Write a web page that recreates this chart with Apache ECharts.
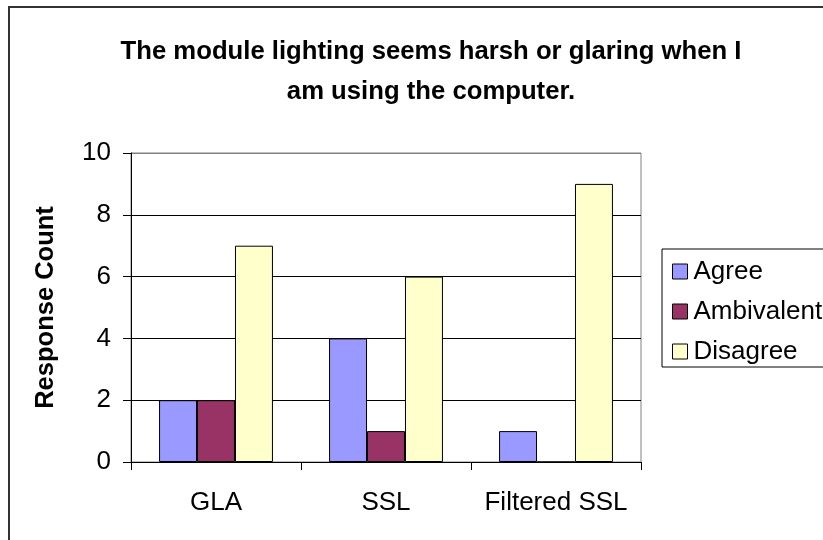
<!DOCTYPE html>
<html>
<head>
<meta charset="utf-8">
<script src="https://cdn.jsdelivr.net/npm/echarts@6/dist/echarts.min.js"></script>
<style>
  html, body { margin: 0; padding: 0; background: #fff; }
  #chart { width: 823px; height: 540px; }
</style>
</head>
<body>
<div id="chart"></div>
<script>
// categories and series
const categories = ["GLA", "SSL", "Filtered SSL"];
const agree = [2, 4, 1];
const ambivalent = [2, 1, 0];
const disagree = [7, 6, 9];
const yTicks = [0, 2, 4, 6, 8, 10];

const font = "Liberation Sans, Arial, sans-serif";

const chart = echarts.init(document.getElementById("chart"), null, { renderer: "canvas" });

const barSeries = (name, data, color) => ({
  name: name,
  type: "bar",
  data: data,
  barGap: "0%",
  barCategoryGap: "33%",
  itemStyle: { color: color, borderColor: "#000", borderWidth: 1 },
  emphasis: { disabled: true },
});

chart.setOption({
  backgroundColor: "#fff",
  animation: false,
  title: {
    text: "The module lighting seems harsh or glaring when I\nam using the computer.",
    left: 426,
    top: 27,
    textAlign: "center",
    textStyle: {
      fontFamily: font,
      fontSize: 25.7,
      fontWeight: "bold",
      color: "#000",
      lineHeight: 40,
    },
  },
  graphic: [
    {
      type: "rect",
      shape: { x: 9, y: 7, width: 830, height: 550 },
      style: { fill: "none", stroke: "#333", lineWidth: 2 },
      silent: true,
      z: -10,
    },
  ],
  legend: {
    orient: "vertical",
    left: 662,
    top: 249,
    data: ["Agree", "Ambivalent", "Disagree"],
    itemWidth: 15,
    itemHeight: 15,
    itemGap: 13,
    padding: [9, 30, 2, 10],
    borderColor: "#000",
    borderWidth: 1,
    textStyle: { fontFamily: font, fontSize: 26, color: "#000", padding: [0, 0, 0, 1], lineHeight: 27 },
    icon: "rect",
    itemStyle: { borderColor: "#000", borderWidth: 1 },
  },
  grid: {
    left: 131,
    right: 182,
    top: 153,
    bottom: 78,
    show: true,
    borderColor: "#808080",
    borderWidth: 1,
  },
  xAxis: {
    type: "category",
    data: categories,
    axisLine: { lineStyle: { color: "#000", width: 1 } },
    axisTick: { show: true, length: 8, lineStyle: { color: "#000" } },
    axisLabel: { interval: 0, fontFamily: font, fontSize: 26, color: "#000", margin: 28 },
  },
  yAxis: {
    type: "value",
    min: 0,
    max: 10,
    interval: 2,
    name: "Response Count",
    nameLocation: "middle",
    nameGap: 72,
    nameTextStyle: { fontFamily: font, fontSize: 25.5, fontWeight: "bold", color: "#000" },
    axisLine: { show: true, lineStyle: { color: "#000", width: 1 } },
    axisTick: { show: true, length: 8, lineStyle: { color: "#000" } },
    axisLabel: {
      fontFamily: font,
      fontSize: 26,
      color: "#000",
      margin: 20,
      formatter: (v) => (yTicks.includes(v) ? String(v) : ""),
    },
    splitLine: {
      lineStyle: { color: ["#000", "#000", "#000", "#000", "#000", "#808080"], width: 1 },
    },
  },
  series: [
    barSeries("Agree", agree, "#9999FF"),
    barSeries("Ambivalent", ambivalent, "#993366"),
    barSeries("Disagree", disagree, "#FFFFCC"),
  ],
});
</script>
</body>
</html>
